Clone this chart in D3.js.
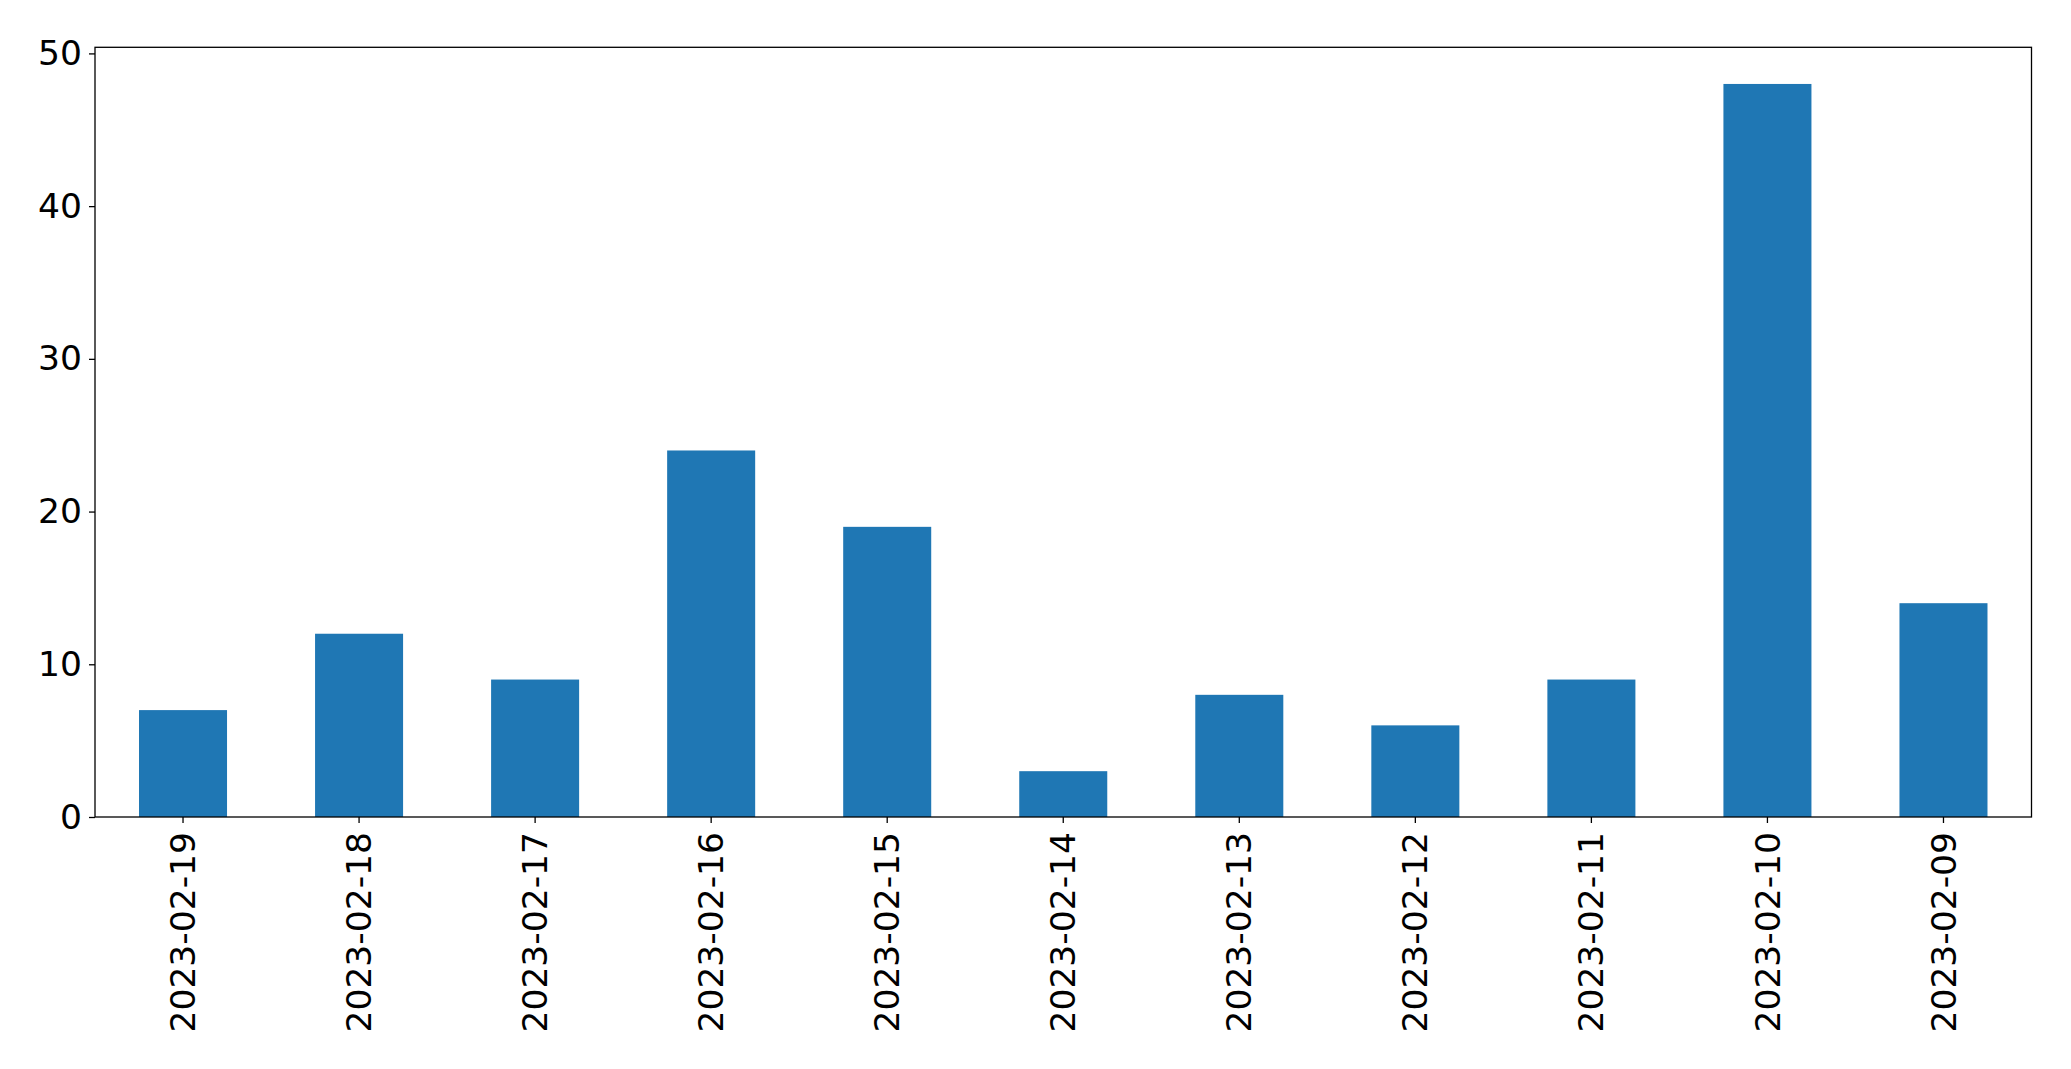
<!DOCTYPE html>
<html><head><meta charset="utf-8">
<script src="https://cdn.jsdelivr.net/npm/d3@7"></script>
<style>html,body{margin:0;padding:0;background:#fff;}svg{display:block;}</style>
</head><body>
<script>
const categories = ["2023-02-19","2023-02-18","2023-02-17","2023-02-16","2023-02-15","2023-02-14","2023-02-13","2023-02-12","2023-02-11","2023-02-10","2023-02-09"];
const values = [7,12,9,24,19,3,8,6,9,48,14];
const yTicks = [0,10,20,30,40,50];

const W = 2071, H = 1069;
const m = {left:95, right:2031.5, top:47.3, bottom:817};
const svg = d3.select("body").append("svg").attr("width",W).attr("height",H);

const x = d3.scaleBand().domain(categories).range([m.left,m.right]).paddingInner(0.5).paddingOuter(0.25);
const y = d3.scaleLinear().domain([0, d3.max(values)*1.05]).range([m.bottom,m.top]);

svg.append("g").selectAll("rect").data(values).join("rect")
  .attr("x",(d,i)=>x(categories[i])).attr("width",x.bandwidth())
  .attr("y",d=>y(d)).attr("height",d=>y(0)-y(d)).attr("fill","#1f77b4");

const font = "DejaVu Sans";
const ya = svg.append("g").attr("transform",`translate(${m.left},0)`)
  .call(d3.axisLeft(y).tickValues(yTicks).tickSize(6).tickPadding(7));
ya.select(".domain").remove();
ya.selectAll("line").attr("stroke","#000").attr("stroke-width",1.3);
ya.selectAll("text").attr("font-family",font).attr("font-size",34.5).attr("fill","#000");

const xa = svg.append("g").attr("transform",`translate(0,${m.bottom})`)
  .call(d3.axisBottom(x).tickSize(6).tickPadding(0));
xa.select(".domain").remove();
xa.selectAll("line").attr("stroke","#000").attr("stroke-width",1.3);
xa.selectAll("text").attr("font-family",font).attr("font-size",34.5).attr("fill","#000")
  .attr("transform","rotate(-90)").attr("text-anchor","end").attr("dy","0.35em").attr("x",-15).attr("y",0);

svg.append("rect").attr("x",m.left).attr("y",m.top).attr("width",m.right-m.left).attr("height",m.bottom-m.top)
  .attr("fill","none").attr("stroke","#000").attr("stroke-width",1.3);
</script>
</body></html>
